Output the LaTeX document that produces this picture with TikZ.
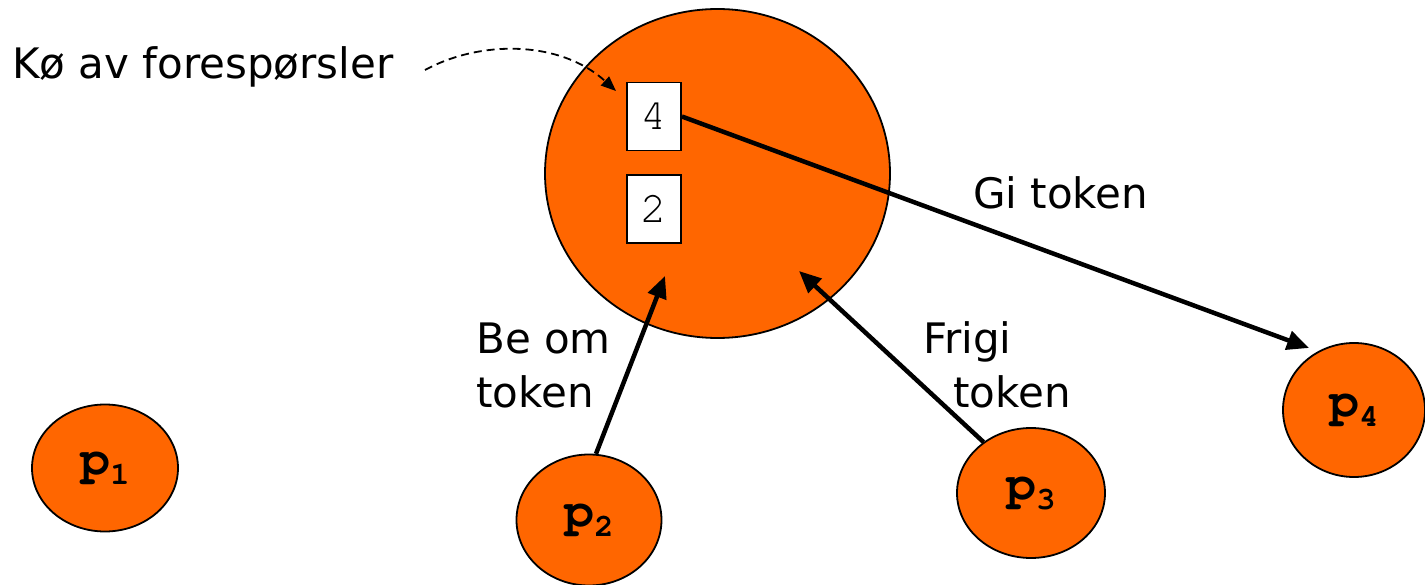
\documentclass[tikz,border=0pt]{standalone}
\usepackage{fontspec}
\setmainfont{DejaVu Sans}
\newfontfamily\courfont{texgyrecursor}[Extension=.otf, UprightFont=*-regular, BoldFont=*-bold]
\usetikzlibrary{shapes.geometric,arrows.meta}
\definecolor{procorange}{HTML}{FF6600}
\tikzset{
  proc/.style={ellipse, draw=black, line width=1.8pt, fill=procorange, inner sep=0pt},
  qbox/.style={rectangle, draw=black, line width=1.8pt, fill=white, minimum width=54pt, minimum height=68pt, inner sep=0pt, font=\courfont\fontsize{44}{44}\selectfont},
  lbl/.style={inner sep=0pt, anchor=base west, align=left, font=\fontsize{42}{54}\selectfont},
  bigarrow/.style={line width=4.5pt, -{Triangle[length=22pt,width=19pt]}},
  dasharrow/.style={line width=1.8pt, dash pattern=on 8pt off 5pt, -{Triangle[length=15pt,width=12pt]}},
}
\newcommand{\pname}[1]{{\courfont\bfseries\fontsize{50}{50}\selectfont p\raisebox{-0.2em}{\fontsize{32}{32}\selectfont #1}}}
\begin{document}
\begin{tikzpicture}[x=1pt,y=-1pt]
\useasboundingbox (0,0) rectangle (1425,585);
% central coordinator
\node[proc, minimum width=345pt, minimum height=329pt] (coord) at (717.5,173.5) {};
\node[qbox] (q4) at (654,116.5) {4};
\node[qbox] (q2) at (654,209) {2};
% processes
\node[proc, minimum width=146pt, minimum height=127pt] (p1) at (105,468) {\pname{1}};
\node[proc, minimum width=145pt, minimum height=131pt] (p2) at (589,520) {\pname{2}};
\node[proc, minimum width=148pt, minimum height=130pt] (p3) at (1031,493) {\pname{3}};
\node[proc, minimum width=142pt, minimum height=134pt] (p4) at (1354,410) {\pname{4}};
% labels
\node[lbl] (lq) at (12,79) {Kø av forespørsler};
\node[lbl] (lgi) at (973,209) {Gi token};
\node[lbl] (lbe) at (476,407) {Be om\\token};
\node[lbl] (lfr) at (923,407) {Frigi\\\hspace*{30pt}token};
% connectors
\coordinate (dstart) at (425,70);
\coordinate (dtip) at (616,91);
\draw[dasharrow] (dstart) .. controls (480,40) and (560,40) .. (dtip);
\coordinate (t2) at (665,276);
\coordinate (t3) at (799,271);
\coordinate (t4) at (1309,348);
\draw[bigarrow] (p2.84) -- (t2);
\draw[bigarrow] (p3.133) -- (t3);
\draw[bigarrow] (q4.east) -- (t4);
\end{tikzpicture}
\end{document}
